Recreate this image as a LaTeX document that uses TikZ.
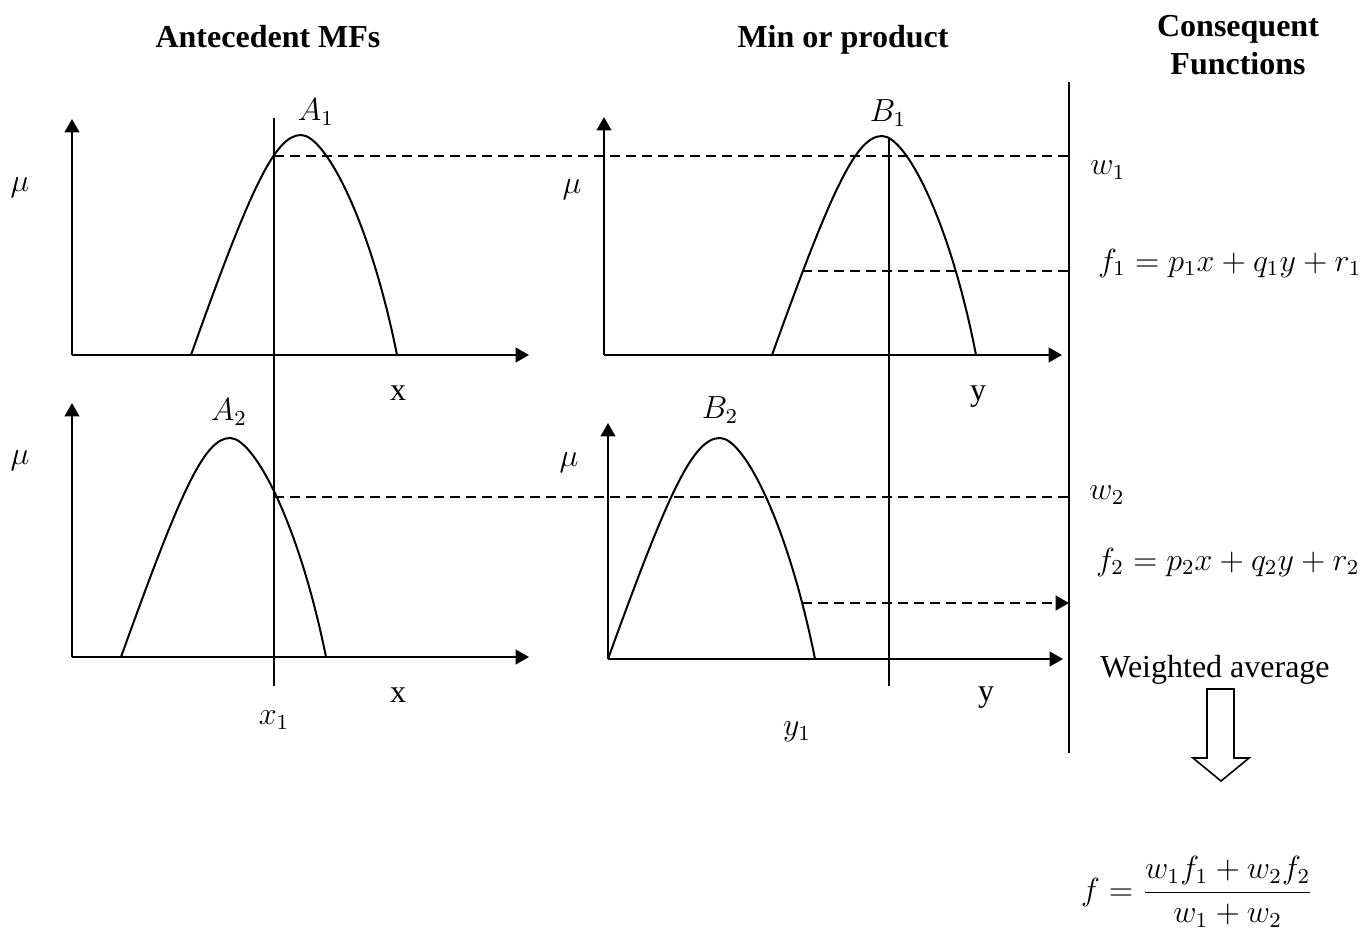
\documentclass[tikz,border=0pt,12pt]{standalone}
\usepackage{fontspec}
\setmainfont{Liberation Serif}
\usetikzlibrary{arrows.meta}
\begin{document}
\begin{tikzpicture}[x=0.375pt,y=-0.375pt,line width=0.75pt,
  axis/.style={-{Triangle[length=5pt,width=5.5pt]}},
  dashline/.style={dash pattern=on 3.8pt off 2.2pt},
  lbl/.style={inner sep=0pt},
  title/.style={font=\bfseries,align=center,inner sep=0pt}]
\useasboundingbox (0,0) rectangle (1365,933);
% titles
\node[title,anchor=base] (t1) at (268,47) {Antecedent MFs};
\node[title,anchor=base] (t2) at (843,47) {Min or product};
\node[title] (t3) at (1238,45) {Consequent\\Functions};
% axes coordinates
\coordinate (oA1) at (72,355);  \coordinate (yA1) at (72,119);  \coordinate (xA1) at (529,355);
\coordinate (oA2) at (72,657);  \coordinate (yA2) at (72,403);  \coordinate (xA2) at (529,657);
\coordinate (oB1) at (604,355); \coordinate (yB1) at (604,117); \coordinate (xB1) at (1062,355);
\coordinate (oB2) at (608,659); \coordinate (yB2) at (608,423); \coordinate (xB2) at (1063,659);
\draw[axis] (oA1) -- (yA1); \draw[axis] (oA1) -- (xA1);
\draw[axis] (oA2) -- (yA2); \draw[axis] (oA2) -- (xA2);
\draw[axis] (oB1) -- (yB1); \draw[axis] (oB1) -- (xB1);
\draw[axis] (oB2) -- (yB2); \draw[axis] (oB2) -- (xB2);
% membership functions
\draw (191,355) .. controls (250,189) and (275,135) .. (301,135) .. controls (325,135) and (370,220) .. (397,355);
\draw (121,657) .. controls (180,493) and (204,438) .. (230,438) .. controls (254,438) and (299,523) .. (326,657);
\draw (772,355) .. controls (831,191) and (856,136) .. (882,136) .. controls (906,136) and (950,221) .. (976,355);
\draw (608,659) .. controls (668,493) and (693,438) .. (720,438) .. controls (744,438) and (788,524) .. (815,659);
% vertical lines
\coordinate (x1top) at (274,118); \coordinate (x1bot) at (274,686);
\coordinate (y1top) at (889,137); \coordinate (y1bot) at (889,686);
\coordinate (rtop) at (1069,82);  \coordinate (rbot) at (1069,753);
\draw (x1top) -- (x1bot);
\draw (y1top) -- (y1bot);
\draw (rtop) -- (rbot);
% dashed lines
\coordinate (w1s) at (274,156); \coordinate (w1e) at (1069,156);
\coordinate (w2s) at (274,497); \coordinate (w2e) at (1069,497);
\coordinate (f1s) at (802,271); \coordinate (f1e) at (1069,271);
\coordinate (f2s) at (802,603); \coordinate (f2e) at (1069,603);
\draw[dashline] (w1s) -- (w1e);
\draw[dashline] (w2s) -- (w2e);
\draw[dashline] (f1s) -- (f1e);
\draw[dashline,-{Triangle[length=5pt,width=5.5pt]}] (f2s) -- (f2e);
% labels
\node[lbl] (mu1) at (20,188) {$\mu$};
\node[lbl] (mu2) at (20,461) {$\mu$};
\node[lbl] (mu3) at (572,190) {$\mu$};
\node[lbl] (mu4) at (569,463) {$\mu$};
\node[lbl] (A1) at (316,112) {$A_1$};
\node[lbl] (A2) at (229,412) {$A_2$};
\node[lbl] (B1) at (888,113) {$B_1$};
\node[lbl] (B2) at (720,410) {$B_2$};
\node[lbl] (xl1) at (398,393) {x};
\node[lbl] (xl2) at (398,695) {x};
\node[lbl] (yl1) at (978,397) {y};
\node[lbl] (yl2) at (986,698) {y};
\node[lbl] (x1) at (274,720) {$x_1$};
\node[lbl] (y1) at (797,732) {$y_1$};
\node[lbl] (w1) at (1108,170) {$w_1$};
\node[lbl] (w2) at (1107,495) {$w_2$};
\node[lbl,anchor=west] (f1) at (1097,263) {$f_1 = p_1x + q_1y + r_1$};
\node[lbl,anchor=west] (f2) at (1095,562) {$f_2 = p_2x + q_2y + r_2$};
\node[lbl] (wa) at (1215,670) {Weighted average};
\node[lbl,anchor=west] (ff) at (1080,892) {$\displaystyle f=\frac{w_1f_1+w_2f_2}{w_1+w_2}$};
% hollow arrow
\draw[line width=0.6pt] (1207,689) -- (1234,689) -- (1234,758) -- (1249,758) -- (1221,781) -- (1193,758) -- (1207,758) -- cycle;
\end{tikzpicture}
\end{document}
